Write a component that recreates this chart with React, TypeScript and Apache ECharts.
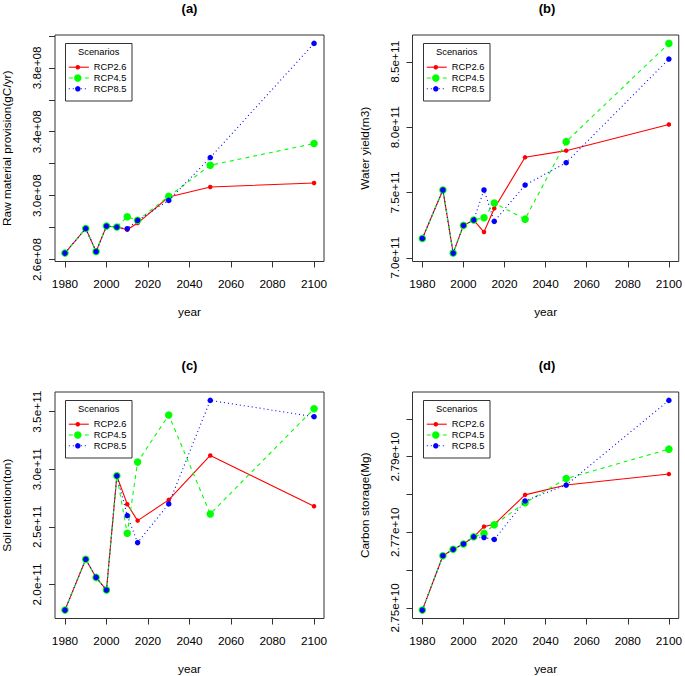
import React, { useEffect, useRef } from "react";
import * as echarts from "echarts";

const years = [1980, 1990, 1995, 2000, 2005, 2010, 2015, 2030, 2050, 2100];
const scenarios = ["RCP2.6", "RCP4.5", "RCP8.5"];
const panelTitles = ["(a)", "(b)", "(c)", "(d)"];
const yTitles = [
  "Raw material provision(gC/yr)",
  "Water yield(m3)",
  "Soil retention(ton)",
  "Carbon storage(Mg)",
];

// (a) Raw material provision
const rawRCP26 = [2.640e8, 2.794e8, 2.650e8, 2.809e8, 2.803e8, 2.786e8, 2.828e8, 2.991e8, 3.054e8, 3.079e8];
const rawRCP45 = [2.640e8, 2.794e8, 2.650e8, 2.809e8, 2.803e8, 2.868e8, 2.845e8, 2.995e8, 3.190e8, 3.326e8];
const rawRCP85 = [2.640e8, 2.794e8, 2.650e8, 2.809e8, 2.803e8, 2.793e8, 2.845e8, 2.970e8, 3.238e8, 3.953e8];

// (b) Water yield
const waterRCP26 = [7.148e11, 7.519e11, 7.036e11, 7.248e11, 7.289e11, 7.197e11, 7.378e11, 7.769e11, 7.820e11, 8.020e11];
const waterRCP45 = [7.148e11, 7.519e11, 7.036e11, 7.248e11, 7.289e11, 7.307e11, 7.419e11, 7.296e11, 7.889e11, 8.641e11];
const waterRCP85 = [7.148e11, 7.519e11, 7.036e11, 7.248e11, 7.289e11, 7.519e11, 7.279e11, 7.557e11, 7.728e11, 8.521e11];

// (c) Soil retention
const soilRCP26 = [1.777e11, 2.218e11, 2.061e11, 1.951e11, 2.943e11, 2.696e11, 2.554e11, 2.734e11, 3.120e11, 2.679e11];
const soilRCP45 = [1.777e11, 2.218e11, 2.061e11, 1.951e11, 2.943e11, 2.444e11, 3.062e11, 3.471e11, 2.612e11, 3.526e11];
const soilRCP85 = [1.777e11, 2.218e11, 2.061e11, 1.951e11, 2.943e11, 2.598e11, 2.363e11, 2.699e11, 3.598e11, 3.456e11];

// (d) Carbon storage
const carbonRCP26 = [2.7494e10, 2.7638e10, 2.7655e10, 2.7669e10, 2.7688e10, 2.7715e10, 2.7721e10, 2.7799e10, 2.7825e10, 2.7854e10];
const carbonRCP45 = [2.7494e10, 2.7638e10, 2.7655e10, 2.7669e10, 2.7688e10, 2.7697e10, 2.7720e10, 2.7778e10, 2.7842e10, 2.7920e10];
const carbonRCP85 = [2.7494e10, 2.7638e10, 2.7655e10, 2.7669e10, 2.7688e10, 2.7686e10, 2.7681e10, 2.7783e10, 2.7825e10, 2.8049e10];

// tick marks and labels
const xTicks = [1980, 2000, 2020, 2040, 2060, 2080, 2100];
const rawTicks = [2.6e8, 2.8e8, 3.0e8, 3.2e8, 3.4e8, 3.6e8, 3.8e8, 4.0e8];
const rawLabelValues = [2.6e8, 3.0e8, 3.4e8, 3.8e8];
const rawLabels = ["2.6e+08", "3.0e+08", "3.4e+08", "3.8e+08"];
const waterTicks = [7.0e11, 7.5e11, 8.0e11, 8.5e11];
const waterLabels = ["7.0e+11", "7.5e+11", "8.0e+11", "8.5e+11"];
const soilTicks = [2.0e11, 2.5e11, 3.0e11, 3.5e11];
const soilLabels = ["2.0e+11", "2.5e+11", "3.0e+11", "3.5e+11"];
const carbonTicks = [2.75e10, 2.76e10, 2.77e10, 2.78e10, 2.79e10, 2.80e10];
const carbonLabelValues = [2.75e10, 2.77e10, 2.79e10];
const carbonLabels = ["2.75e+10", "2.77e+10", "2.79e+10"];

const FONT = "'Liberation Sans', Arial, Helvetica, sans-serif";
const COLORS = ["#FF0000", "#00FF00", "#0000FF"];
const DASHES: any[] = ["solid", [4, 4], [1, 3]];
const SIZES = [4.5, 7.5, 5.5];
const BOX = "#333333";

const panels = [
  { series: [rawRCP26, rawRCP45, rawRCP85], ticks: rawTicks, labelValues: rawLabelValues, labels: rawLabels, left: 55, top: 35 },
  { series: [waterRCP26, waterRCP45, waterRCP85], ticks: waterTicks, labelValues: waterTicks, labels: waterLabels, left: 412.5, top: 35 },
  { series: [soilRCP26, soilRCP45, soilRCP85], ticks: soilTicks, labelValues: soilTicks, labels: soilLabels, left: 55, top: 392 },
  { series: [carbonRCP26, carbonRCP45, carbonRCP85], ticks: carbonTicks, labelValues: carbonLabelValues, labels: carbonLabels, left: 412.5, top: 392 },
];
const GW = 269;
const GH = 226.5;

function padRange(vals: number[]) {
  const mn = Math.min(...vals);
  const mx = Math.max(...vals);
  const d = (mx - mn) * 0.04;
  return [mn - d, mx + d];
}

function legendGroup(x0: number, y0: number) {
  const children: any[] = [
    { type: "rect", shape: { x: 0, y: 0, width: 66.5, height: 57.5 }, style: { fill: "#ffffff", stroke: BOX, lineWidth: 1 } },
    { type: "text", x: 33.25, y: 8.5, style: { text: "Scenarios", fontSize: 9.3, fontFamily: FONT, fill: "#000", align: "center", verticalAlign: "middle" } },
  ];
  scenarios.forEach((s, i) => {
    const yy = 23.7 + i * 10.8;
    children.push({
      type: "line",
      shape: { x1: 3.3, y1: yy, x2: 23.3, y2: yy },
      style: { stroke: COLORS[i], lineWidth: 1.1, lineDash: i === 0 ? null : DASHES[i] },
    });
    children.push({ type: "circle", shape: { cx: 12.3, cy: yy, r: SIZES[i] / 2 }, style: { fill: COLORS[i] } });
    children.push({
      type: "text",
      x: 28.3,
      y: yy,
      style: { text: s, fontSize: 9.3, fontFamily: FONT, fill: "#000", align: "left", verticalAlign: "middle" },
    });
  });
  return { type: "group", x: x0, y: y0, children };
}

export default function App() {
  const ref = useRef<HTMLDivElement>(null);
  useEffect(() => {
    if (!ref.current) return;
    const chart = echarts.init(ref.current, null, { renderer: "svg" });
    const grid: any[] = [];
    const xAxis: any[] = [];
    const yAxis: any[] = [];
    const series: any[] = [];
    const graphic: any[] = [];
    const xRange = padRange(years);
    panels.forEach((p, i) => {
      grid.push({ left: p.left, top: p.top, width: GW, height: GH, show: true, borderColor: BOX, borderWidth: 1, backgroundColor: "transparent" });
      xAxis.push({
        type: "value",
        gridIndex: i,
        min: xRange[0],
        max: xRange[1],
        axisLine: { show: false },
        splitLine: { show: false },
        axisTick: { show: true, length: 6, customValues: xTicks, lineStyle: { color: BOX } },
        axisLabel: { customValues: xTicks, formatter: (v: number) => String(Math.round(v)), margin: 16, fontSize: 11.8, color: "#000", fontFamily: FONT },
        name: "year",
        nameLocation: "middle",
        nameGap: 44,
        nameTextStyle: { fontSize: 11.8, color: "#000", fontFamily: FONT },
      });
      const all = ([] as number[]).concat(...p.series);
      const yr = padRange(all);
      const lv = p.labelValues;
      const lt = p.labels;
      yAxis.push({
        type: "value",
        gridIndex: i,
        min: yr[0],
        max: yr[1],
        axisLine: { show: false },
        splitLine: { show: false },
        axisTick: { show: true, length: 6, customValues: p.ticks, lineStyle: { color: BOX } },
        axisLabel: {
          customValues: lv,
          formatter: (v: number) => {
            const k = lv.findIndex((t) => Math.abs(t - v) < Math.abs(t) * 1e-9);
            return k >= 0 ? lt[k] : "";
          },
          rotate: 90,
          margin: 12,
          fontSize: 11.8,
          color: "#000",
          fontFamily: FONT,
        },
        name: yTitles[i],
        nameLocation: "middle",
        nameGap: 42,
        nameTextStyle: { fontSize: 11.8, color: "#000", fontFamily: FONT },
      });
      p.series.forEach((vals, s) => {
        series.push({
          type: "line",
          name: scenarios[s],
          xAxisIndex: i,
          yAxisIndex: i,
          data: years.map((y, k) => [y, vals[k]]),
          symbol: "circle",
          symbolSize: SIZES[s],
          showSymbol: true,
          showAllSymbol: true,
          lineStyle: { color: COLORS[s], width: 1.1, type: DASHES[s] },
          itemStyle: { color: COLORS[s] },
          emphasis: { disabled: true },
          z: 2 + s,
        });
      });
      graphic.push({
        type: "text",
        x: p.left + GW / 2,
        y: p.top - 26.5,
        style: { text: panelTitles[i], fontSize: 13, fontWeight: "bold", fontFamily: FONT, fill: "#000", align: "center", verticalAlign: "middle" },
      });
      graphic.push(legendGroup(Math.round(p.left + 10) + 0.5, Math.round(p.top + 8) + 0.5));
    });
    chart.setOption({
      animation: false,
      backgroundColor: "#ffffff",
      grid,
      xAxis,
      yAxis,
      series,
      graphic,
    });
    return () => chart.dispose();
  }, []);
  return <div ref={ref} style={{ position: "absolute", left: 0, top: 0, width: 685, height: 676 }} />;
}
